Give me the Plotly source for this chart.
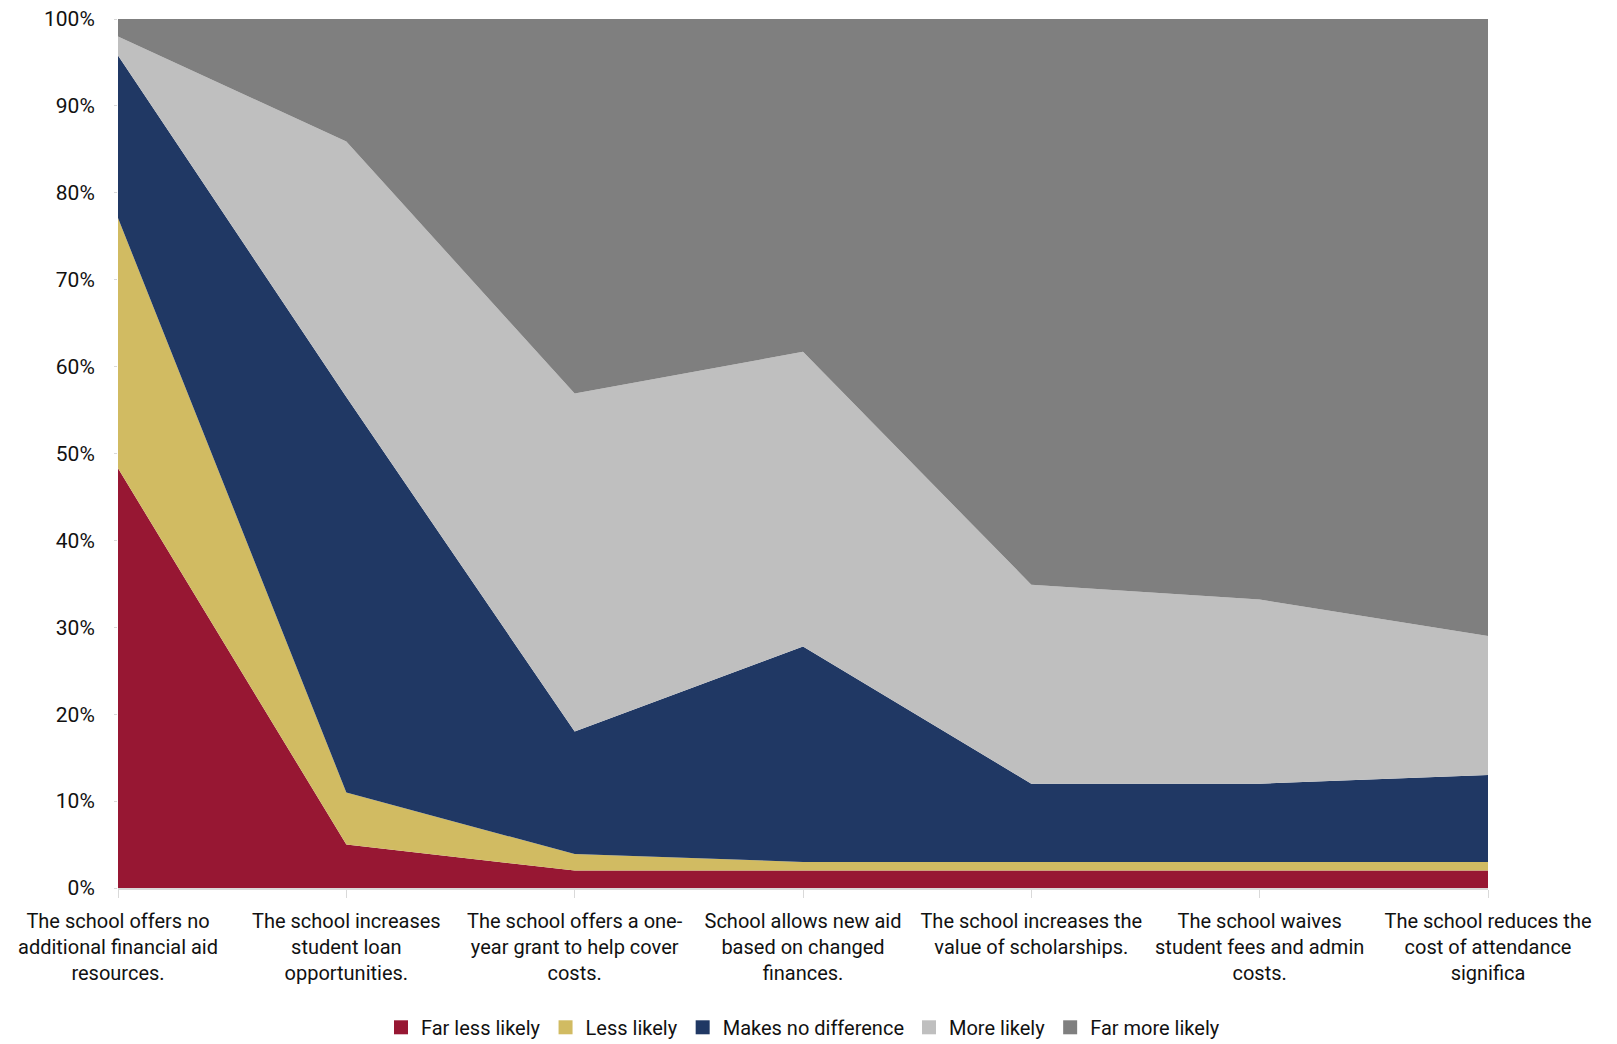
import plotly.graph_objects as go

categories = [
    "The school offers no<br>additional financial aid<br>resources.",
    "The school increases<br>student loan<br>opportunities.",
    "The school offers a one-<br>year grant to help cover<br>costs.",
    "School allows new aid<br>based on changed<br>finances.",
    "The school increases the<br>value of scholarships.",
    "The school waives<br>student fees and admin<br>costs.",
    "The school reduces the<br>cost of attendance<br>significa",
]

far_less_likely = [48.3, 5.0, 2.0, 2.0, 2.0, 2.0, 2.0]
less_likely = [28.8, 6.0, 1.9, 1.0, 1.0, 1.0, 1.0]
makes_no_difference = [18.7, 45.5, 14.1, 24.8, 9.0, 9.0, 10.0]
more_likely = [2.2, 29.4, 38.9, 33.9, 22.9, 21.2, 16.0]
far_more_likely = [2.0, 14.1, 43.1, 38.3, 65.1, 66.8, 71.0]

series = [
    ("Far less likely", far_less_likely, "#971733"),
    ("Less likely", less_likely, "#D1BB62"),
    ("Makes no difference", makes_no_difference, "#203864"),
    ("More likely", more_likely, "#BFBFBF"),
    ("Far more likely", far_more_likely, "#7F7F7F"),
]

FONT = "Roboto, Liberation Sans Narrow, DejaVu Sans Condensed, sans-serif"

fig = go.Figure()
for name, values, color in series:
    # stacked area band
    fig.add_trace(go.Scatter(
        x=categories, y=values, name=name, mode="lines",
        stackgroup="one", line=dict(width=0, color=color),
        fillcolor=color, showlegend=False, legendgroup=name,
    ))
for name, values, color in series:
    # square swatch for the legend
    fig.add_trace(go.Scatter(
        x=[None], y=[None], name=name, mode="markers",
        marker=dict(symbol="square", size=14, color=color),
        legendgroup=name, showlegend=True,
    ))

fig.update_layout(
    width=1617, height=1044,
    margin=dict(l=118, r=129, t=19, b=156, autoexpand=False),
    paper_bgcolor="white", plot_bgcolor="white",
    font=dict(family=FONT, size=20, color="#111111"),
    showlegend=True,
    legend=dict(
        orientation="h", x=0.5, xanchor="center",
        yref="container", y=0.016, yanchor="middle",
        font=dict(size=20), traceorder="normal", itemwidth=30,
    ),
    xaxis=dict(
        type="category", range=[0, 6], showgrid=False,
        showline=True, linecolor="#D9D9D9", linewidth=2,
        ticks="outside", ticklen=8, tickcolor="#D9D9D9",
        tickfont=dict(size=20), tickangle=0, automargin=False,
        ticklabelstandoff=6,
    ),
    yaxis=dict(
        range=[0, 100], dtick=10, ticksuffix="%", showgrid=False,
        zeroline=False, showline=False, automargin=False,
        ticks="outside", ticklen=3, tickcolor="#D9D9D9",
        tickfont=dict(size=21), ticklabelstandoff=15,
    ),
)

fig.write_html("out.html")
